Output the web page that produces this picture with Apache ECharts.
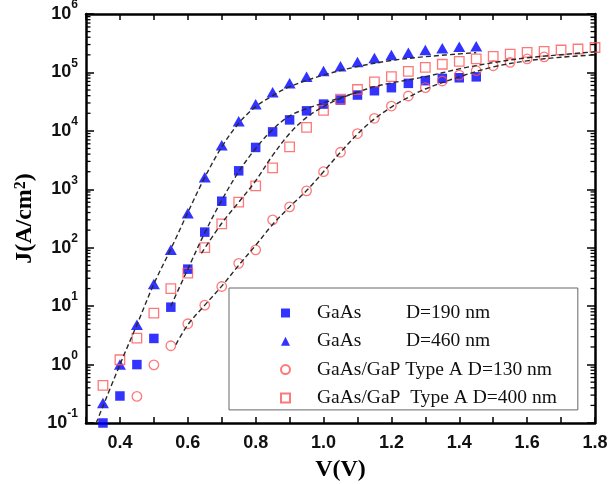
<!DOCTYPE html>
<html>
<head>
<meta charset="utf-8">
<script src="https://cdn.jsdelivr.net/npm/echarts@6/dist/echarts.min.js"></script>
<style>
  html, body { margin: 0; padding: 0; background: #fff; }
  #chart { width: 610px; height: 484px; }
</style>
</head>
<body>
<div id="chart"></div>
<script>
// ---- Measured J–V data ----
// GaAs nanowires (D=190 nm and D=460 nm) share the same voltage steps
const vGaAs = [0.35, 0.40, 0.45, 0.50, 0.55, 0.60, 0.65, 0.70, 0.75, 0.80, 0.85, 0.90,
               0.95, 1.00, 1.05, 1.10, 1.15, 1.20, 1.25, 1.30, 1.35, 1.40, 1.45];
const jGaAs190 = [0.1, 0.29, 1.0, 2.8, 9.6, 43, 185, 625, 2070, 5200, 9600, 15400,
                  22000, 28700, 33700, 41000, 48600, 54800, 65000, 72300, 79000, 81000, 84000];
const jGaAs460 = [0.22, 1.0, 4.8, 24, 92, 390, 1610, 5670, 14600, 28500, 45700, 65000,
                  84000, 106000, 127000, 151000, 176000, 199000, 218000, 242000, 259000, 275000, 280000];

// GaAs/GaP Type A, D=130 nm
const vTypeA130 = [0.45, 0.50, 0.55, 0.60, 0.65, 0.70, 0.75, 0.80, 0.85, 0.90, 0.95, 1.00, 1.05,
                   1.10, 1.15, 1.20, 1.25, 1.30, 1.35, 1.40, 1.45, 1.50, 1.55, 1.60, 1.65];
const jTypeA130 = [0.285, 0.99, 2.1, 5.0, 10.4, 21.7, 54, 92, 300, 500, 940, 2000, 4300,
                   9000, 16400, 26600, 39500, 54800, 71300, 90000, 107000, 130000, 149000, 170000, 184000];

// GaAs/GaP Type A, D=400 nm
const vTypeA400 = [0.35, 0.40, 0.45, 0.50, 0.55, 0.60, 0.65, 0.70, 0.75, 0.80, 0.85, 0.90, 0.95, 1.00, 1.05,
                   1.10, 1.15, 1.20, 1.25, 1.30, 1.35, 1.40, 1.45, 1.50, 1.55, 1.60, 1.65, 1.70, 1.75, 1.80];
const jTypeA400 = [0.44, 1.21, 2.84, 7.6, 20, 36.7, 100, 256, 601, 1140, 2320, 5310, 11500, 22500, 35000,
                   51000, 69000, 85000, 104000, 122000, 138000, 155000, 171000, 188000, 205000, 221000, 229000, 242000, 252000, 267000];

// ---- Fitted curves (dashed) ----
const vFit460 = [0.33, 0.40, 0.45, 0.50, 0.55, 0.60, 0.65, 0.70, 0.75, 0.80, 0.85, 0.90, 1.00, 1.10, 1.20, 1.30, 1.45];
const jFit460 = [0.1, 1.0, 4.8, 24, 95, 400, 1600, 5300, 13500, 26000, 40000, 57000, 90000, 126000, 160000, 186000, 218000];

const vFit190 = [0.55, 0.60, 0.65, 0.70, 0.75, 0.80, 0.85, 0.90, 0.95, 1.00, 1.05, 1.10, 1.15, 1.20, 1.30, 1.40, 1.50, 1.60, 1.70, 1.80];
const jFit190 = [10, 43, 180, 650, 2000, 5000, 10500, 18000, 24000, 30000, 37000, 46000, 57000, 66000, 84500, 115000, 147000, 178000, 201000, 226000];

const vFit400 = [0.64, 0.70, 0.75, 0.80, 0.85, 0.90, 0.95, 1.00, 1.05, 1.10];
const jFit400 = [80, 262, 600, 1400, 3800, 9000, 17000, 26000, 36000, 46000];

const vFit130 = [0.565, 0.60, 0.65, 0.70, 0.75, 0.80, 0.85, 0.90, 0.95, 1.00, 1.05, 1.10, 1.15, 1.20, 1.25, 1.30, 1.40, 1.50, 1.60, 1.70, 1.80];
const jFit130 = [2.2, 4.8, 10.4, 22, 50, 110, 250, 500, 950, 2000, 4300, 8800, 16000, 25500, 37500, 52000, 84000, 124000, 158000, 182000, 200000];

// ---- Legend text ----
const legendMaterial = ['GaAs', 'GaAs', 'GaAs/GaP Type A', 'GaAs/GaP  Type A'];
const legendSize = ['D=190 nm', 'D=460 nm', 'D=130 nm', 'D=400 nm'];
const seriesNames = legendMaterial.map((m, i) => m + ' ' + legendSize[i]);

// ---- Axes ----
const xMin = 0.3, xMax = 1.8, xStep = 0.1;
const yMin = 0.1, yMax = 1e6;

const zip = (xs, ys) => xs.map((x, i) => [x, ys[i]]);

// minor log ticks (2..9 within each decade)
const minorTicks = [];
for (let e = -1; e < 6; e++) {
  for (let k = 2; k <= 9; k++) minorTicks.push([xMin, k * Math.pow(10, e)]);
}

const BLUE = '#0000ff';
const RED = '#ff5656';
const serif = 'Liberation Serif, Times New Roman, serif';
const sans = 'Liberation Sans, Arial, sans-serif';

const fitStyle = { color: '#2a2a2a', width: 1.4, type: [5, 3] };

function fitSeries(v, j) {
  return {
    type: 'line', data: zip(v, j), showSymbol: false, symbol: 'none',
    smooth: 0.35, silent: true, z: 4,
    lineStyle: fitStyle
  };
}

const chart = echarts.init(document.getElementById('chart'), null, { renderer: 'canvas' });

const commonX = {
  type: 'value', min: xMin, max: xMax, interval: xStep,
  splitLine: { show: false },
  axisLine: { show: true, onZero: false, lineStyle: { color: '#000', width: 2.5 } },
  axisTick: { show: true, inside: true, length: 6, lineStyle: { color: '#000', width: 1.5 } }
};
const commonY = {
  type: 'log', logBase: 10, min: yMin, max: yMax, splitNumber: 8,
  splitLine: { show: false },
  axisLine: { show: true, onZero: false, lineStyle: { color: '#000', width: 2.5 } },
  axisTick: { show: true, inside: true, length: 8, lineStyle: { color: '#000', width: 1.5 } },
  minorTick: { show: false }
};

const legendFont = { fontFamily: serif, fontSize: 19.5, lineHeight: 20, color: '#111' };

chart.setOption({
  animation: false,
  backgroundColor: '#fff',
  grid: { left: 86, right: 15, top: 14, bottom: 61, containLabel: false, outerBoundsMode: 'none' },
  xAxis: [
    Object.assign({}, commonX, {
      position: 'bottom',
      name: 'V(V)', nameLocation: 'middle', nameGap: 35,
      nameTextStyle: { fontFamily: serif, fontWeight: 'bold', fontSize: 24, color: '#000' },
      axisLabel: {
        margin: 11, fontFamily: sans, fontWeight: 'bold', fontSize: 18, color: '#111',
        showMinLabel: true, showMaxLabel: true,
        formatter: function (v) {
          const k = Math.round(v * 10);
          return (k % 2 === 0 && k >= 4) ? (k / 10).toFixed(1) : '';
        }
      }
    }),
    Object.assign({}, commonX, { position: 'top', axisLabel: { show: false } })
  ],
  yAxis: [
    Object.assign({}, commonY, {
      position: 'left',
      name: 'J(A/cm{s|2})', nameLocation: 'middle', nameGap: 46,
      nameTextStyle: {
        fontFamily: serif, fontWeight: 'bold', fontSize: 24, color: '#000',
        rich: { s: { fontFamily: serif, fontWeight: 'bold', fontSize: 16, verticalAlign: 'top', lineHeight: 16, color: '#000' } }
      },
      axisLabel: {
        margin: 8, color: '#111',
        formatter: function (v) {
          const e = Math.round(Math.log10(v));
          return '{b|10}{s|' + e + '}';
        },
        rich: {
          b: { fontFamily: sans, fontWeight: 'bold', fontSize: 18, lineHeight: 30, verticalAlign: 'middle', color: '#111' },
          s: { fontFamily: sans, fontWeight: 'bold', fontSize: 12, lineHeight: 12, verticalAlign: 'top', color: '#111' }
        }
      }
    }),
    Object.assign({}, commonY, { position: 'right', axisLabel: { show: false } })
  ],
  legend: {
    data: seriesNames,
    orient: 'vertical', left: 229, top: 288,
    padding: [15, 21, 2, 51],
    itemWidth: 9, itemHeight: 9, itemGap: 8.3,
    borderColor: '#666', borderWidth: 1, backgroundColor: '#fff',
    selectedMode: false,
    textStyle: Object.assign({}, legendFont, {
      rich: {
        m: Object.assign({}, legendFont, { width: 89, padding: [0, 0, 0, 22] }),
        w: Object.assign({}, legendFont, { padding: [0, 0, 0, 22] })
      }
    }),
    formatter: function (name) {
      const i = seriesNames.indexOf(name);
      if (legendMaterial[i] === 'GaAs') return '{m|' + legendMaterial[i] + '}' + legendSize[i];
      return '{w|' + legendMaterial[i] + ' ' + legendSize[i] + '}';
    }
  },
  series: [
    {
      name: seriesNames[0], type: 'scatter', data: zip(vGaAs, jGaAs190),
      symbol: 'rect', symbolSize: 9.5, z: 3,
      itemStyle: { color: BLUE }
    },
    {
      name: seriesNames[1], type: 'scatter', data: zip(vGaAs, jGaAs460),
      symbol: 'triangle', symbolSize: [12, 10.5], z: 3,
      itemStyle: { color: BLUE }
    },
    {
      name: seriesNames[2], type: 'scatter', data: zip(vTypeA130, jTypeA130),
      symbol: 'circle', symbolSize: 9.5, z: 3,
      itemStyle: { color: 'rgba(255,255,255,0)', borderColor: RED, borderWidth: 1.3 }
    },
    {
      name: seriesNames[3], type: 'scatter', data: zip(vTypeA400, jTypeA400),
      symbol: 'rect', symbolSize: 9.5, z: 3,
      itemStyle: { color: 'rgba(255,255,255,0)', borderColor: RED, borderWidth: 1.3 }
    },
    fitSeries(vFit460, jFit460),
    fitSeries(vFit190, jFit190),
    fitSeries(vFit400, jFit400),
    fitSeries(vFit130, jFit130),
    {
      type: 'custom', data: minorTicks, silent: true, clip: false, z: 6,
      renderItem: function (params, api) {
        const v = api.value(1);
        const l = api.coord([xMin, v]);
        const r = api.coord([xMax, v]);
        const st = { stroke: '#000', lineWidth: 1.3 };
        return {
          type: 'group',
          children: [
            { type: 'line', shape: { x1: l[0], y1: l[1], x2: l[0] + 4.5, y2: l[1] }, style: st },
            { type: 'line', shape: { x1: r[0] - 4.5, y1: r[1], x2: r[0], y2: r[1] }, style: st }
          ]
        };
      }
    }
  ]
});
</script>
</body>
</html>
